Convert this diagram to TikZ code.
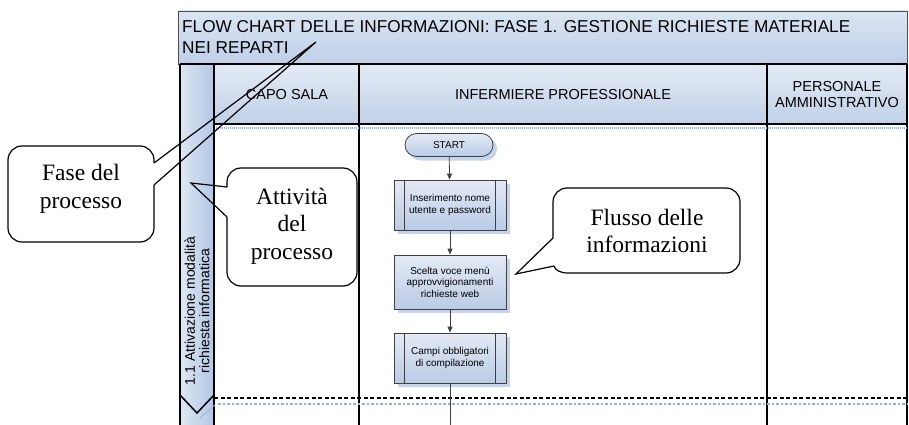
\documentclass[tikz,border=0pt]{standalone}
\usepackage{fontspec}
\setmainfont{Liberation Serif}
\newfontfamily\arial{Liberation Sans}
\usetikzlibrary{arrows.meta,shadows}
\definecolor{tA}{RGB}{219,229,242}
\definecolor{tB}{RGB}{190,207,232}
\definecolor{hA}{RGB}{228,235,245}
\definecolor{hB}{RGB}{192,208,232}
\definecolor{sA}{RGB}{222,231,243}
\definecolor{sB}{RGB}{178,198,228}
\definecolor{fbA}{RGB}{228,234,245}
\definecolor{fbB}{RGB}{185,203,229}
\definecolor{shadowblue}{RGB}{196,212,240}
\definecolor{dotblue}{RGB}{150,178,225}
\tikzset{
  lanel/.style={line width=2.4pt, black},
  fbox/.style={draw=black!75, line width=0.8pt, top color=fbA, bottom color=fbB,
    font=\arial\fontsize{10}{11.5}\selectfont, align=center, inner sep=0pt,
    minimum width=112pt,
    drop shadow={shadow xshift=4pt, shadow yshift=-4pt, fill=shadowblue, opacity=1}},
  flow/.style={draw=black!75, line width=0.8pt, -{Triangle[length=6pt,width=5pt]}},
  callout/.style={draw=black, line width=1.2pt, rounded corners=14pt},
  pointer/.style={draw=black, line width=1.2pt, line join=miter},
  ctext/.style={font=\fontsize{23.5}{27.5}\selectfont, align=center, inner sep=0pt},
  hdrtext/.style={font=\arial\fontsize{14.5}{16}\selectfont, align=center, inner sep=0pt},
  titletext/.style={font=\arial\fontsize{17.2}{20}\selectfont, anchor=base west, inner sep=0pt},
}
\begin{document}
\begin{tikzpicture}[x=1pt,y=-1pt]
\useasboundingbox (0,0) rectangle (909,425);
% title box
\shade[top color=tA, bottom color=tB] (178,11) rectangle (907,64);
\draw[black!70, line width=0.8pt] (178,11) rectangle (907,64);
\node[titletext] (title1) at (182,32.5) {FLOW CHART DELLE INFORMAZIONI: FASE 1. GESTIONE RICHIESTE MATERIALE};
\node[titletext] (title2) at (182,53.5) {NEI REPARTI};
% header cells
\shade[top color=hA, bottom color=hB] (214,64) rectangle (359,124);
\shade[top color=hA, bottom color=hB] (359,64) rectangle (767,124);
\shade[top color=hA, bottom color=hB] (767,64) rectangle (907,124);
% strip
\shade[left color=sA, right color=sB] (180,64) rectangle (214,430);
% lane lines
\draw[lanel] (180,64) -- (907,64);
\draw[lanel] (214,124) -- (907,124);
\draw[lanel] (180,64) -- (180,430);
\draw[lanel] (214,64) -- (214,430);
\draw[lanel] (359,64) -- (359,430);
\draw[lanel] (767,64) -- (767,430);
\draw[lanel] (907,64) -- (907,430);
\draw[dotblue, line width=1.5pt, dash pattern=on 1pt off 1pt] (216,128) -- (907,128);
% header texts
\node[hdrtext] (capo) at (287,95) {CAPO SALA};
\node[hdrtext] (inf) at (563,95) {INFERMIERE PROFESSIONALE};
\node[hdrtext] (pers) at (837,95) {PERSONALE\\AMMINISTRATIVO};
% strip text
\node[font=\arial\fontsize{14}{14.5}\selectfont, align=center, rotate=90, inner sep=0pt] (fase11) at (197,311) {1.1 Attivazione modalità\\richiesta informatica};
% phase end chevron and separators
\draw[dotblue, line width=1pt, dash pattern=on 2pt off 1.5pt] (200,418) -- (216,404);
\draw[black, line width=1.5pt] (180,395) -- (197,413) -- (214,395);
\draw[black, line width=1.5pt, dash pattern=on 4pt off 2.5pt] (214,398) -- (907,398);
\draw[dotblue, line width=1.2pt, dash pattern=on 2.5pt off 2pt] (218,404) -- (907,404);
% flowchart
\node[fbox, rounded corners=11.5pt, minimum width=88pt, minimum height=23pt] (start) at (449,145) {START};
\node[fbox, minimum height=50pt] (b1) at (450,205) {Inserimento nome\\utente e password};
\node[fbox, minimum height=54pt] (b2) at (450,282) {Scelta voce menù\\approvvigionamenti\\richieste web};
\node[fbox, minimum height=50pt] (b3) at (450,358) {Campi obbligatori\\di compilazione};
\foreach \b in {b1,b3}{
  \draw[black!75, line width=0.8pt] ([xshift=11pt]\b.north west) -- ([xshift=11pt]\b.south west);
  \draw[black!75, line width=0.8pt] ([xshift=-11pt]\b.north east) -- ([xshift=-11pt]\b.south east);
}
\draw[flow] (start) -- (b1);
\draw[flow] (b1) -- (b2);
\draw[flow] (b2) -- (b3);
\coordinate (bend) at (450,432);
\draw[black!75, line width=0.8pt] (b3) -- (bend);
% callout: Fase del processo
\draw[callout] (154,185) -- (154,242) -- (8,242) -- (8,146) -- (154,146) -- (154,163);
\draw[pointer] (154,163) -- (316,42) -- (154,185);
\node[ctext] (fase) at (81,189) {Fase del\\processo};
% callout: Attività del processo
\draw[callout] (227,217) -- (227,286) -- (357,286) -- (357,168) -- (227,168) -- (227,187);
\draw[pointer] (227,187) -- (191,183) -- (227,217);
\node[ctext] (att) at (292,226) {Attività\\del\\processo};
% callout: Flusso delle informazioni
\draw[callout] (553,238) -- (553,188) -- (740,188) -- (740,273) -- (568,273);
\draw[line width=1.2pt] (568,273) .. controls (560,273) and (555,270) .. (554,266);
\draw[pointer] (554,266) -- (516,274) -- (553,238);
\node[ctext] (flu) at (647,231) {Flusso delle\\informazioni};
\end{tikzpicture}
\end{document}
